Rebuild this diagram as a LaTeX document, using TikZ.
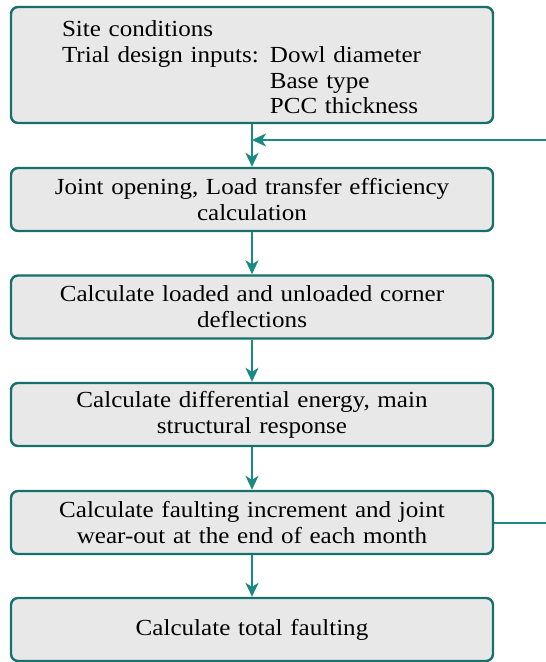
\documentclass[tikz,border=0pt]{standalone}
\usepackage{fontspec}
\setmainfont{Liberation Serif}[FakeStretch=1.09]
\usetikzlibrary{arrows.meta}
\definecolor{tealedge}{HTML}{17706B}
\definecolor{tealarrow}{HTML}{1B8A84}
\definecolor{boxgray}{HTML}{E8E8E8}

\begin{document}
\begin{tikzpicture}[x=1pt, y=-1pt,
    stepbox/.style={draw=tealedge, fill=boxgray, line width=2.4pt, rounded corners=7pt,
        minimum width=482pt, minimum height=63pt, text width=470pt, align=center,
        inner sep=0pt, font=\fontsize{23}{25.8}\selectfont},
    flow/.style={draw=tealarrow, line width=2pt, -{Stealth[length=14pt, width=13pt, inset=4pt]}}]
    \useasboundingbox (0,0) rectangle (546,662);

    % Inputs
    \node[stepbox, minimum height=116pt, align=left] (inputs) at (252,65)
        {\hspace*{45pt}\raisebox{-5pt}[\height][\depth]{\begin{tabular}{@{}l@{\hspace{11pt}}l@{}}
            Site conditions & \\
            Trial design inputs: & Dowl diameter \\
             & Base type \\
             & PCC thickness
        \end{tabular}}};

    % Monthly steps
    \node[stepbox] (joint) at (252,199.5) {Joint opening, Load transfer efficiency\\ calculation};
    \node[stepbox] (defl) at (252,307) {Calculate loaded and unloaded corner\\ deflections};
    \node[stepbox] (energy) at (252,414.5) {Calculate differential energy, main\\ structural response};
    \node[stepbox] (fault) at (252,522.5) {Calculate faulting increment and joint\\ wear-out at the end of each month};
    \node[stepbox] (total) at (252,629.5) {Calculate total faulting};

    % Arrows down
    \draw[flow] (inputs) -- (joint);
    \draw[flow] (joint) -- (defl);
    \draw[flow] (defl) -- (energy);
    \draw[flow] (energy) -- (fault);
    \draw[flow] (fault) -- (total);

    % Loop back for next month
    \coordinate (loopbot) at (547,522.5);
    \coordinate (looptop) at (547,140);
    \draw[draw=tealarrow, line width=2pt] (fault.east) -- (loopbot);
    \draw[flow] (looptop) -- (inputs.south |- looptop);
\end{tikzpicture}
\end{document}
